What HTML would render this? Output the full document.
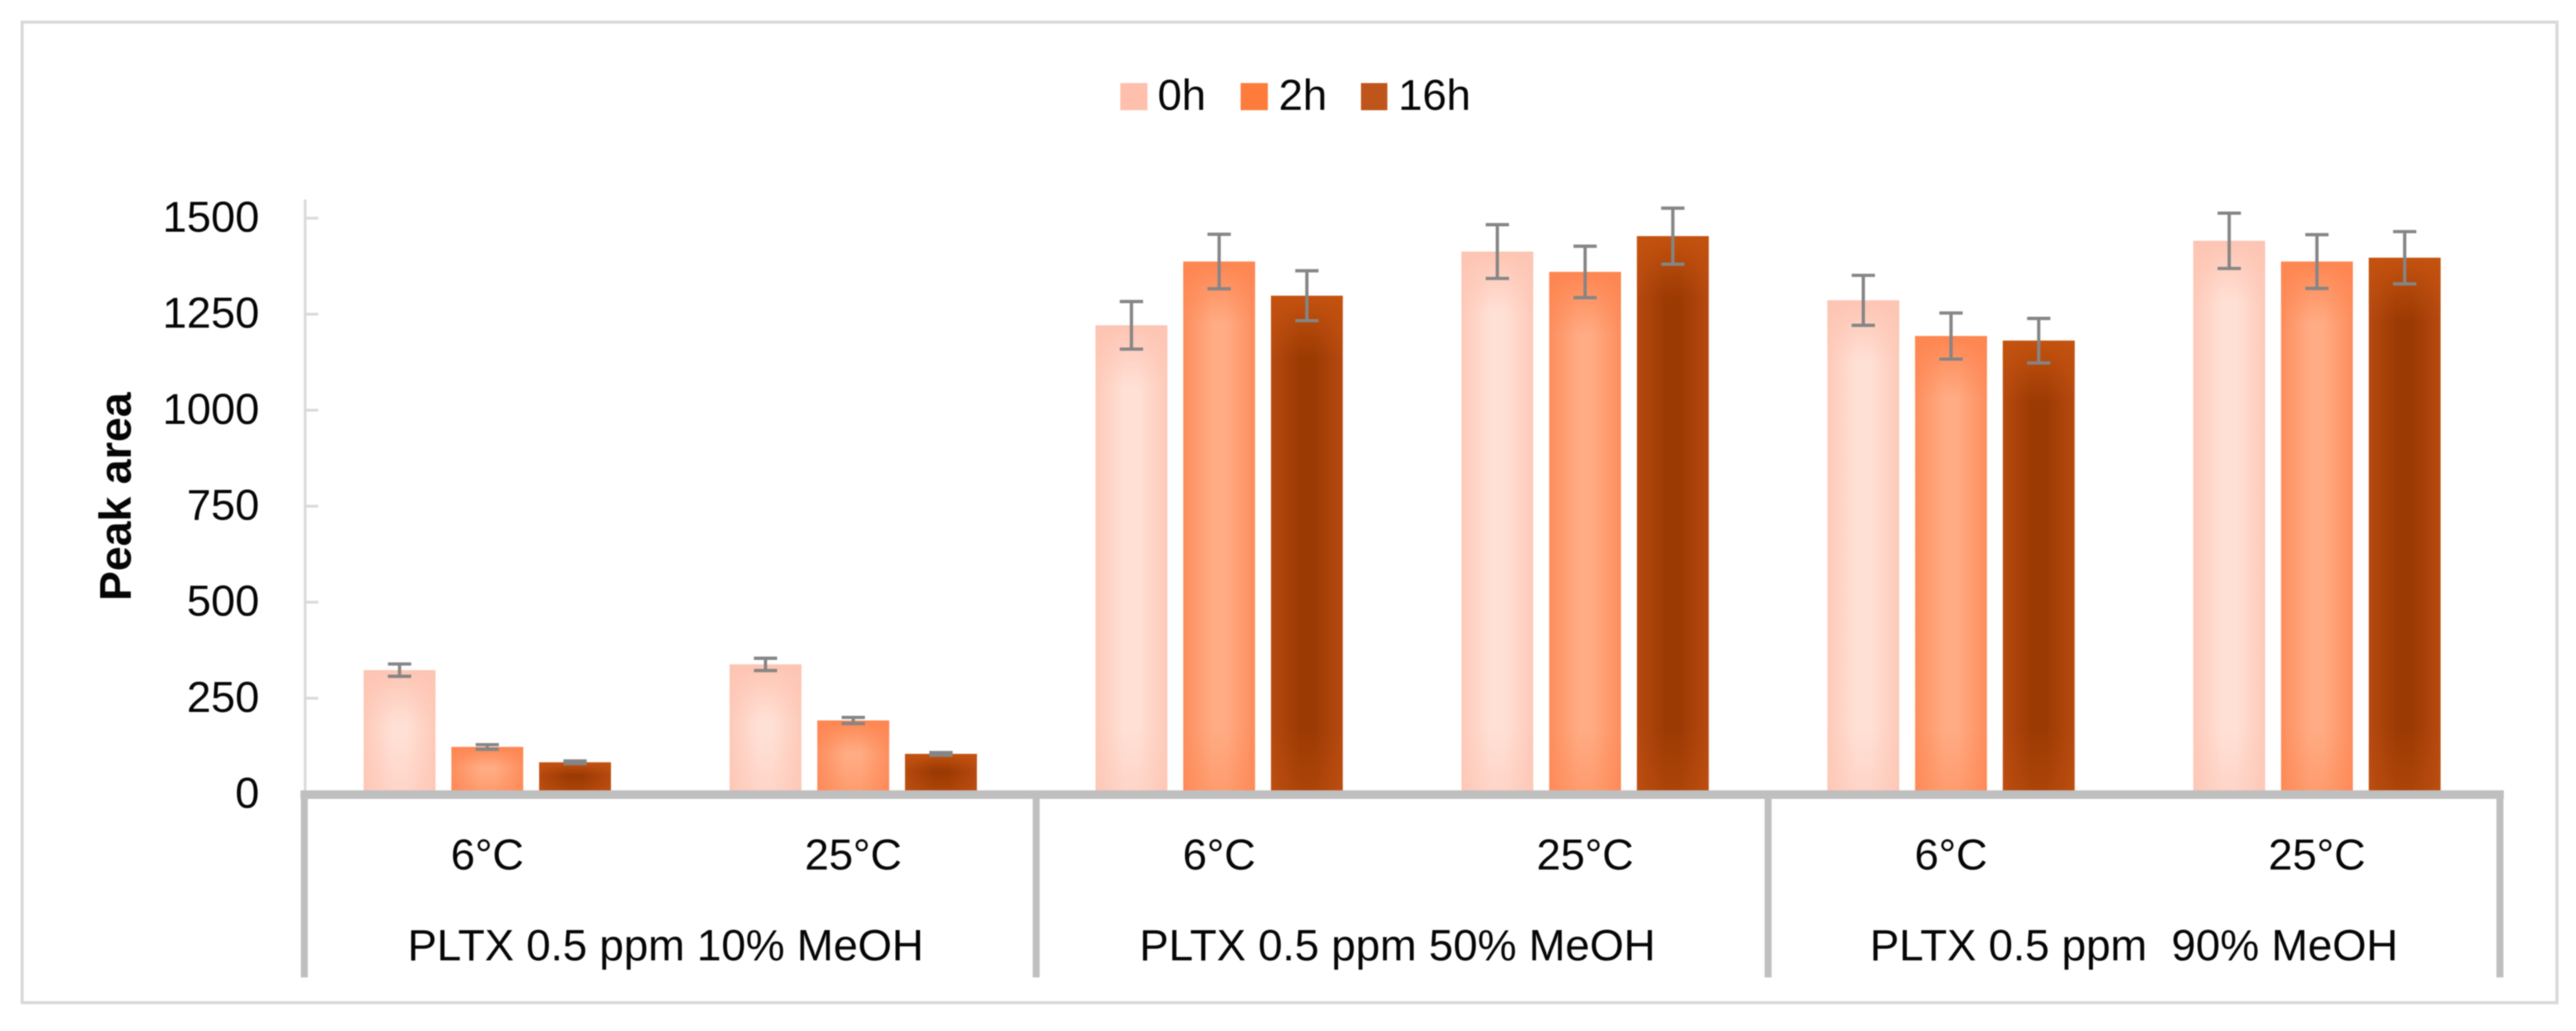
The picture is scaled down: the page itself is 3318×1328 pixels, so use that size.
<!DOCTYPE html>
<html lang="en">
<head>
<meta charset="utf-8">
<title>Peak area by MeOH content, temperature and time</title>
<style>
html,body{margin:0;padding:0;background:#fff;width:3318px;height:1328px;overflow:hidden}
svg{display:block;filter:blur(0.7px)}
text{font-family:"Liberation Sans",Arial,sans-serif;fill:#050505}
</style>
</head>
<body>
<svg id="chart" xmlns="http://www.w3.org/2000/svg" width="3318" height="1328" viewBox="0 0 3318 1328">
  <defs id="defs">
    <linearGradient id="grad-0" x1="0" x2="1" y1="0" y2="0">
      <stop offset="0" stop-color="#fdc9b8"/><stop offset=".4" stop-color="#ffe0d5"/><stop offset=".6" stop-color="#ffe0d5"/><stop offset="1" stop-color="#fdc9b8"/>
    </linearGradient>
    <linearGradient id="grad-1" x1="0" x2="1" y1="0" y2="0">
      <stop offset="0" stop-color="#fd8d5c"/><stop offset=".4" stop-color="#ffab83"/><stop offset=".6" stop-color="#ffab83"/><stop offset="1" stop-color="#fd8d5c"/>
    </linearGradient>
    <linearGradient id="grad-2" x1="0" x2="1" y1="0" y2="0">
      <stop offset="0" stop-color="#b64a10"/><stop offset=".4" stop-color="#9c3a03"/><stop offset=".6" stop-color="#9c3a03"/><stop offset="1" stop-color="#b64a10"/>
    </linearGradient>
  </defs>

  <rect x="28.5" y="28.5" width="3265" height="1263" fill="#ffffff" stroke="#d9d9d9" stroke-width="4"/>

  <g font-size="56">
    <g>
      <rect x="1443" y="107" width="35" height="35" fill="#fec0ad"/>
      <text x="1491" y="141.5">0h</text>
    </g>
    <g>
      <rect x="1598" y="107" width="35" height="35" fill="#fd7c3c"/>
      <text x="1647" y="141.5">2h</text>
    </g>
    <g>
      <rect x="1753" y="107" width="34" height="35" fill="#c0551b"/>
      <text x="1801" y="141.5">16h</text>
    </g>
  </g>

  <text transform="translate(168.5 774) rotate(-90)" font-size="57.5" font-weight="700">Peak area</text>

  <g id="y-axis"></g>
  <g id="bars"></g>
  <g id="x-axis"></g>
  <g id="errors"></g>
</svg>

<script>
const yTicks = [0, 250, 500, 750, 1000, 1250, 1500];
const seriesNames = ['0h', '2h', '16h'];
const groupLabels = ['PLTX 0.5 ppm 10% MeOH', 'PLTX 0.5 ppm 50% MeOH', 'PLTX 0.5 ppm  90% MeOH'];
const subLabels = ['6°C', '25°C'];
const values0h = [323, 338, 1221, 1413, 1286, 1441];
const values2h = [123, 192, 1387, 1360, 1193, 1387];
const values16h = [83, 105, 1298, 1453, 1181, 1397];
const errors0h = [16, 16, 62, 70, 65, 72];
const errors2h = [6, 8, 71, 67, 60, 70];
const errors16h = [3.5, 3.5, 65, 73, 58, 68];

const allValues = [values0h, values2h, values16h];
const allErrors = [errors0h, errors2h, errors16h];
const edgeColors = ['#fdc4b2', '#fd8550', '#c4520f'];

const NS = 'http://www.w3.org/2000/svg';
const plotLeft = 392, plotRight = 3220, y0 = 1023, y1500 = 281, bandTop = 1018;
const barWidth = 92.5, barPitch = 113, capWidth = 30;
const groupCount = groupLabels.length, subCount = subLabels.length;
const groupWidth = (plotRight - plotLeft) / groupCount;
const slotWidth = groupWidth / subCount;

function yScale(v) { return y0 - (v / 1500) * (y0 - y1500); }
function slotCenter(i) { return plotLeft + slotWidth * (i + 0.5); }
function barX(slot, s) { return slotCenter(slot) + (s - 1) * barPitch - barWidth / 2; }
function make(tag, attrs, parent) {
  const el = document.createElementNS(NS, tag);
  for (const k in attrs) el.setAttribute(k, attrs[k]);
  parent.appendChild(el);
  return el;
}

const defs = document.getElementById('defs');
const yAxis = document.getElementById('y-axis');
const barsG = document.getElementById('bars');
const xAxis = document.getElementById('x-axis');
const errG = document.getElementById('errors');

const yLine = make('line', {x1: 393, x2: 393, y1: 257, y2: bandTop, stroke: '#d9d9d9', 'stroke-width': 3.5}, yAxis);



yTicks.forEach(function (t) {
  const y = yScale(t);
  if (t > 0) {
    const tick = make('line', {x1: 393, x2: 410, y1: y, y2: y, stroke: '#d9d9d9', 'stroke-width': 3.5}, yAxis);
    
    
  }
  const label = make('text', {x: 334, y: y + 17.5, 'text-anchor': 'end', 'font-size': 56}, yAxis);
  label.textContent = String(t);
  
  
});

allValues.forEach(function (vals, s) {
  vals.forEach(function (v, i) {
    const x = barX(i, s), top = yScale(v), h = bandTop - top;
    const bar = make('rect', {x: x, y: top, width: barWidth, height: h, fill: 'url(#grad-' + s + ')'}, barsG);
    
    
    const f = Math.min(0.45, 80 / h);
    const id = 'edge-' + s + '-' + i;
    const lg = make('linearGradient', {id: id, x1: 0, x2: 0, y1: 0, y2: 1}, defs);
    [[0, 1], [f, 0], [1 - f, 0], [1, 0.4]].forEach(function (st) {
      make('stop', {offset: st[0], 'stop-color': edgeColors[s], 'stop-opacity': st[1]}, lg);
    });
    const shade = make('rect', {x: x, y: top, width: barWidth, height: h, fill: 'url(#' + id + ')'}, barsG);
    
    
  });
});

const axisBand = make('rect', {x: 387, y: bandTop, width: 2838, height: 11, fill: '#bfbfbf'}, xAxis);



for (let g = 0; g <= groupCount; g++) {
  const sep = make('rect', {x: plotLeft + g * groupWidth - 4.5, y: bandTop, width: 9, height: 241, fill: '#bfbfbf'}, xAxis);
  
  
}

groupLabels.forEach(function (name, g) {
  const gc = plotLeft + groupWidth * (g + 0.5);
  const label = make('text', {x: gc - (g === 2 ? 0 : 6), y: 1237, 'text-anchor': 'middle', 'font-size': 56.5, 'xml:space': 'preserve', style: 'white-space:pre'}, xAxis);
  label.textContent = name;
  
  
  subLabels.forEach(function (sub, k) {
    const subLabel = make('text', {x: slotCenter(g * subCount + k), y: 1120, 'text-anchor': 'middle', 'font-size': 56}, xAxis);
    subLabel.textContent = sub;
    
    
  });
});

allErrors.forEach(function (errs, s) {
  errs.forEach(function (e, i) {
    const cx = barX(i, s) + barWidth / 2;
    const hi = yScale(allValues[s][i] + e), lo = yScale(allValues[s][i] - e);
    const eb = make('path', {
      d: 'M' + (cx - capWidth / 2) + ' ' + hi + 'H' + (cx + capWidth / 2) +
         'M' + cx + ' ' + hi + 'V' + lo +
         'M' + (cx - capWidth / 2) + ' ' + lo + 'H' + (cx + capWidth / 2),
      fill: 'none', stroke: '#858585', 'stroke-width': 4.2
    }, errG);
    
    
  });
});
</script>
</body>
</html>
